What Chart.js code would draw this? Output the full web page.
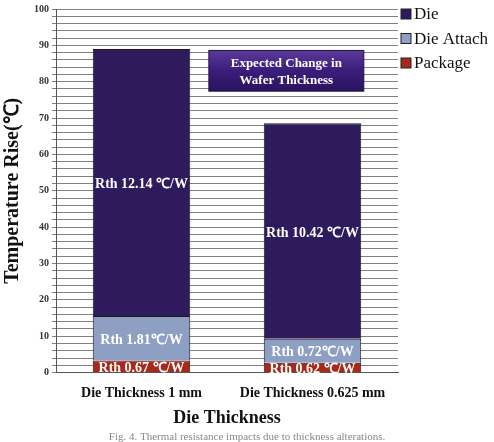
<!DOCTYPE html>
<html>
<head>
<meta charset="utf-8">
<script src="https://cdn.jsdelivr.net/npm/chart.js@4"></script>
<style>
  html, body { margin: 0; padding: 0; background: #fff; }
  #wrap { width: 494px; height: 442px; }
</style>
</head>
<body>
<div id="wrap"><canvas id="grafico"></canvas></div>
<script>
// Dados
const categorias = ['Die Thickness 1 mm', 'Die Thickness 0.625 mm'];
const package_ = [3.3, 2.7];
const dieAttach = [12.3, 6.6];
const die = [73.4, 59.3];
const rotulosPackage = ['Rth 0.67 \u2103/W', 'Rth 0.62 \u2103/W'];
const rotulosAttach = ['Rth 1.81\u2103/W', 'Rth 0.72\u2103/W'];
const rotulosDie = ['Rth 12.14 \u2103/W', 'Rth 10.42 \u2103/W'];
const legenda = 'Fig. 4. Thermal resistance impacts due to thickness alterations.';

const serif = '"Liberation Serif", "Times New Roman", serif';

// rótulos dentro das barras, caixa "Expected Change", legenda e figura
const rotulosPlugin = {
  id: 'rotulos',
  afterDatasetsDraw(chart) {
    const c = chart.ctx;
    const rot = [rotulosPackage, rotulosAttach, rotulosDie];
    c.save();
    c.fillStyle = '#fff';
    c.textAlign = 'center';
    c.textBaseline = 'middle';
    c.font = 'bold 14px ' + serif;
    chart.data.datasets.forEach((ds, i) => {
      chart.getDatasetMeta(i).data.forEach((bar, j) => {
        const y = (bar.y + bar.base) / 2;
        c.fillText(rot[i][j], bar.x, y + 2);
      });
    });
    // caixa de anotação
    const a = chart.chartArea;
    const x0 = a.left + (a.right - a.left) * 0.447;
    const x1 = a.left + (a.right - a.left) * 0.9;
    const yS = chart.scales.y;
    const y0 = yS.getPixelForValue(88.6), y1 = yS.getPixelForValue(77.4);
    const g = c.createLinearGradient(0, y0, 0, y1);
    g.addColorStop(0, '#5a3a9a');
    g.addColorStop(0.5, '#3a1d7a');
    g.addColorStop(1, '#2a145e');
    c.fillStyle = g;
    c.fillRect(x0, y0, x1 - x0, y1 - y0);
    c.strokeStyle = '#1e0f45';
    c.lineWidth = 1;
    c.strokeRect(x0, y0, x1 - x0, y1 - y0);
    c.fillStyle = '#fff';
    c.font = 'bold 13px ' + serif;
    c.fillText('Expected Change in', (x0 + x1) / 2, y0 + 13);
    c.fillText('Wafer Thickness', (x0 + x1) / 2, y0 + 30);

    // legenda (Die, Die Attach, Package)
    c.textAlign = 'left';
    c.font = '17px ' + serif;
    const ds = chart.data.datasets.slice().reverse();
    ds.forEach((d, k) => {
      const ly = 14 + k * 24.5;
      c.fillStyle = d.backgroundColor;
      c.fillRect(a.right + 3, ly - 5, 10, 10);
      c.strokeStyle = '#222';
      c.strokeRect(a.right + 3, ly - 5, 10, 10);
      c.fillStyle = '#111';
      c.fillText(d.label, a.right + 16, ly + 1);
    });

    // texto da figura
    c.textAlign = 'center';
    c.fillStyle = '#888';
    c.font = '11px ' + serif;
    c.fillText(legenda, chart.width / 2, chart.height - 5);
    c.restore();
  }
};

const ctx = document.getElementById('grafico').getContext('2d');

const config = {
  type: 'bar',
  data: {
    labels: categorias,
    datasets: [
      { label: 'Package', data: package_, backgroundColor: '#a8281a', borderColor: '#1a1a1a', borderWidth: 1 },
      { label: 'Die Attach', data: dieAttach, backgroundColor: '#8e9fc4', borderColor: '#1a1a1a', borderWidth: 1 },
      { label: 'Die', data: die, backgroundColor: '#2f1a5e', borderColor: '#1a1a1a', borderWidth: 1 }
    ]
  },
  options: {
    responsive: true,
    maintainAspectRatio: false,
    animation: false,
    layout: { padding: { left: 1, top: 0, right: 96, bottom: 13 } },
    datasets: { bar: { categoryPercentage: 0.57, barPercentage: 1 } },
    scales: {
      x: {
        stacked: true,
        grid: { display: false },
        border: { color: '#555', width: 1 },
        ticks: { color: '#111', font: { family: serif, size: 14, weight: 'bold' }, padding: 4 },
        title: { display: true, text: 'Die Thickness', color: '#111', font: { family: serif, size: 18, weight: 'bold' }, padding: { top: 2, bottom: 0 } }
      },
      y: {
        stacked: true,
        min: 0,
        max: 100,
        grid: { color: '#808080', lineWidth: 1, drawTicks: true, tickLength: 4 },
        border: { color: '#555', width: 1 },
        ticks: {
          stepSize: 2,
          autoSkip: false,
          color: '#333',
          font: { family: serif, size: 10, weight: 'bold' },
          callback: v => (v % 10 === 0 ? v : '')
        },
        title: { display: true, text: 'Temperature Rise(\u2103)', color: '#111', font: { family: serif, size: 20, weight: 'bold' }, padding: { top: 0, bottom: 6 } }
      }
    },
    plugins: {
      legend: { display: false },
      tooltip: { enabled: false }
    }
  },
  plugins: [rotulosPlugin]
};

const grafico = new Chart(ctx, config);
</script>
</body>
</html>
